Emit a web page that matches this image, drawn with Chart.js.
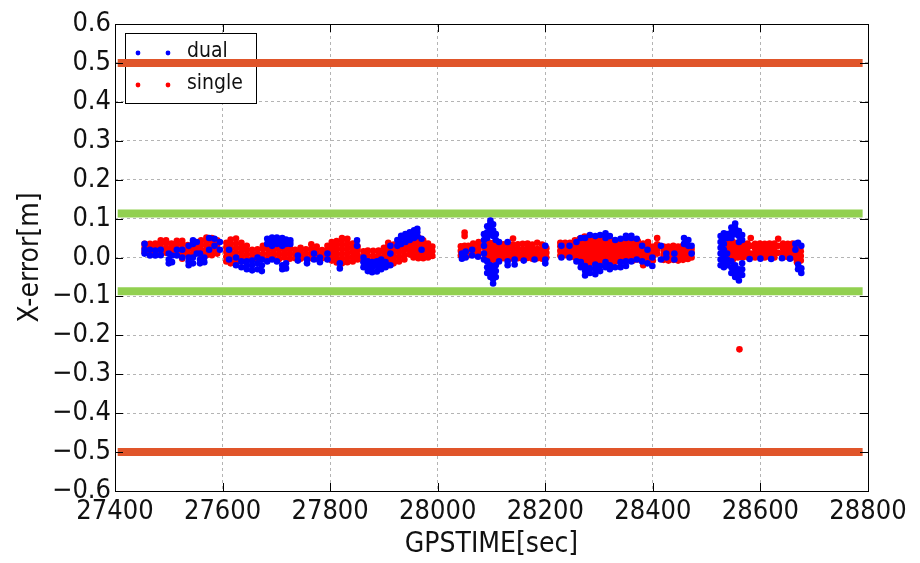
<!DOCTYPE html>
<html>
<head>
<meta charset="utf-8">
<script src="https://cdn.jsdelivr.net/npm/chart.js@4/dist/chart.umd.min.js"></script>
<style>
  html, body { margin: 0; padding: 0; background: #fff; }
  #wrap { width: 920px; height: 563px; position: relative; }
</style>
</head>
<body>
<div id="wrap"><canvas id="errChart"></canvas></div>
<script>
/* ════════════════════════════════════════
   Data
   ════════════════════════════════════════ */
const xTickValues = [27400, 27600, 27800, 28000, 28200, 28400, 28600, 28800];
const yTickValues = [-0.6, -0.5, -0.4, -0.3, -0.2, -0.1, 0, 0.1, 0.2, 0.3, 0.4, 0.5, 0.6];
const yTickLabels = ['\u22120.6', '\u22120.5', '\u22120.4', '\u22120.3', '\u22120.2', '\u22120.1',
                     '0.0', '0.1', '0.2', '0.3', '0.4', '0.5', '0.6'];

// limit lines: [start, end] time and the levels drawn
const limitSpan   = [27405, 28790];
const outerLimits = [0.5, -0.5];
const innerLimits = [0.113, -0.087];

// each row: [GPS time, error, error, ...] at that time
const dualRows = [
  [27455, 0.01, 0.02, 0.035], [27465, 0.005, 0.02], [27475, 0.005, 0.018], [27485, 0.006, 0.02],
  [27500, -0.015, -0.005, 0.01], [27506, -0.012, 0.005], [27515, 0.005, 0.02], [27525, 0.0, 0.02],
  [27537, -0.02, -0.01, 0.0, 0.03], [27545, -0.015, 0.0, 0.035, 0.044], [27552, 0.01, 0.04],
  [27558, -0.015, -0.005, 0.01], [27566, -0.012, 0.0], [27575, 0.02, 0.05], [27585, 0.03, 0.048],
  [27595, 0.02, 0.04],
  [27612, -0.005, 0.02], [27625, -0.02, 0.0], [27635, -0.025, -0.01], [27645, -0.03, -0.02, -0.01],
  [27655, -0.033, -0.02, -0.008], [27665, -0.03, -0.015, 0.0], [27673, -0.035, -0.02, -0.005],
  [27683, -0.01, 0.035, 0.048], [27692, -0.005, 0.03, 0.042, 0.051], [27701, -0.01, 0.035, 0.045, 0.051],
  [27711, -0.03, -0.02, 0.03, 0.042, 0.05], [27718, -0.028, -0.015, 0.035, 0.046], [27726, 0.035, 0.044],
  [27740, -0.008, 0.005], [27757, -0.015, -0.005], [27770, -0.005, 0.01], [27781, -0.012, 0.0],
  [27795, -0.005, 0.01], [27818, -0.028, -0.015], [27850, 0.03, 0.044],
  [27862, -0.025, -0.012, 0.0], [27870, -0.035, -0.022, -0.01], [27878, -0.038, -0.025, -0.012],
  [27887, -0.036, -0.022, -0.01], [27895, -0.03, -0.018, -0.005], [27903, -0.025, -0.012],
  [27912, -0.02, 0.01, 0.03], [27925, 0.03, 0.045], [27932, 0.035, 0.05, 0.056],
  [27940, 0.04, 0.05, 0.06], [27948, 0.045, 0.055, 0.065], [27956, 0.05, 0.06, 0.07],
  [27962, 0.055, 0.065, 0.074], [27970, 0.02, 0.048],
  [28045, -0.003, 0.01], [28052, 0.0, 0.015], [28064, 0.005, 0.02], [28075, 0.002],
  [28086, -0.005, 0.01, 0.03, 0.045, 0.06], [28092, -0.04, -0.025, -0.01, 0.05, 0.065, 0.08],
  [28098, -0.05, -0.035, -0.02, 0.06, 0.075, 0.088, 0.095],
  [28103, -0.067, -0.055, -0.04, -0.025, 0.055, 0.07, 0.085],
  [28108, -0.05, -0.035, -0.02, 0.045, 0.06], [28114, -0.01, 0.04], [28130, -0.02, -0.01, 0.04],
  [28143, -0.018, -0.005], [28160, -0.008], [28180, -0.005], [28200, -0.015, -0.005, 0.03],
  [28230, 0.0, 0.03], [28245, 0.0, 0.03], [28258, -0.01, 0.04], [28266, -0.025, -0.012, 0.05],
  [28274, -0.046, -0.034, -0.022, 0.05], [28283, -0.04, -0.028, 0.058],
  [28293, -0.043, -0.03, -0.018, 0.055], [28302, -0.035, -0.022, 0.058],
  [28312, -0.025, -0.012, 0.05, 0.062], [28320, -0.03, -0.02, 0.055], [28330, -0.025, 0.045],
  [28340, -0.025, -0.012, 0.048], [28350, -0.022, -0.01, 0.05, 0.056], [28360, -0.01, 0.05, 0.056],
  [28370, -0.005, 0.048], [28380, -0.01, 0.03], [28390, -0.015, 0.02], [28399, -0.022, 0.0],
  [28415, -0.005, 0.03], [28425, 0.0, 0.01], [28440, -0.005, 0.01], [28458, 0.035, 0.05],
  [28466, 0.03, 0.045], [28472, 0.01, 0.03],
  [28526, -0.02, -0.005, 0.01, 0.025, 0.04, 0.055], [28532, -0.025, -0.01, 0.005, 0.02, 0.035, 0.05, 0.062],
  [28538, -0.02, -0.005, 0.01, 0.05, 0.06], [28546, -0.04, -0.025, -0.01, 0.05, 0.065, 0.077],
  [28553, -0.05, -0.035, -0.02, 0.06, 0.075, 0.087], [28560, -0.059, -0.045, -0.03, 0.04, 0.055, 0.068],
  [28566, -0.045, -0.03, -0.015, 0.045, 0.058], [28580, -0.004], [28600, -0.003], [28620, -0.004],
  [28640, -0.002], [28655, -0.003], [28665, 0.02, 0.035], [28670, -0.03, -0.018, 0.038],
  [28676, -0.04, -0.028, 0.03],
];

const singleRows = [
  [27455, 0.014, 0.025, 0.035], [27465, 0.014, 0.025, 0.035], [27475, 0.013, 0.025, 0.036],
  [27485, 0.012, 0.024, 0.036, 0.044], [27495, 0.012, 0.024, 0.036, 0.044], [27505, 0.013, 0.025, 0.036],
  [27515, 0.008, 0.02, 0.032, 0.043], [27525, -0.003, 0.01, 0.022, 0.034, 0.043],
  [27535, 0.008, 0.02, 0.032], [27545, 0.01, 0.022, 0.033], [27553, 0.012, 0.024, 0.035],
  [27560, 0.008, 0.02, 0.032, 0.044], [27570, 0.006, 0.018, 0.03, 0.042, 0.051],
  [27580, 0.006, 0.018, 0.03, 0.042, 0.05], [27590, 0.01, 0.022, 0.034, 0.044],
  [27607, -0.01, 0.002, 0.014, 0.026, 0.038], [27615, -0.015, -0.003, 0.01, 0.022, 0.034, 0.046],
  [27625, -0.012, 0.0, 0.012, 0.024, 0.036, 0.049], [27635, -0.01, 0.002, 0.014, 0.026, 0.038],
  [27645, -0.005, 0.007, 0.019, 0.03], [27655, -0.003, 0.009, 0.02], [27665, -0.003, 0.009, 0.021],
  [27675, -0.003, 0.009, 0.022, 0.03], [27685, -0.002, 0.01, 0.022, 0.03], [27695, -0.002, 0.01, 0.021, 0.03],
  [27705, -0.004, 0.008, 0.02, 0.029], [27715, 0.0, 0.011, 0.022], [27725, -0.003, 0.009, 0.02, 0.027],
  [27735, -0.002, 0.009, 0.02], [27745, -0.003, 0.008, 0.019, 0.025], [27755, -0.001, 0.01, 0.021],
  [27765, -0.002, 0.01, 0.022, 0.034], [27775, -0.003, 0.009, 0.02, 0.028], [27785, -0.002, 0.008, 0.019],
  [27795, -0.004, 0.008, 0.02, 0.03],
  [27803, -0.008, 0.004, 0.016, 0.028, 0.04], [27812, -0.013, -0.001, 0.011, 0.023, 0.035, 0.042],
  [27822, -0.015, -0.003, 0.009, 0.021, 0.033, 0.045, 0.05], [27832, -0.012, 0.0, 0.012, 0.024, 0.036, 0.048],
  [27842, -0.01, 0.002, 0.014, 0.026, 0.036], [27851, -0.005, 0.007, 0.019, 0.028],
  [27862, -0.008, 0.004, 0.016], [27870, -0.007, 0.005, 0.018], [27880, -0.008, 0.004, 0.017],
  [27890, -0.006, 0.006, 0.018], [27900, -0.01, 0.002, 0.014, 0.025],
  [27908, -0.02, -0.008, 0.004, 0.016, 0.028, 0.038], [27918, -0.015, -0.003, 0.009, 0.021, 0.033],
  [27928, -0.01, 0.002, 0.014, 0.026, 0.036], [27938, -0.005, 0.007, 0.019, 0.03],
  [27948, 0.008, 0.02, 0.03], [27955, 0.0, 0.012, 0.024, 0.036, 0.046],
  [27964, -0.002, 0.01, 0.022, 0.034, 0.046, 0.051], [27973, -0.002, 0.01, 0.022, 0.034, 0.044],
  [27982, 0.0, 0.012, 0.024, 0.036], [27990, 0.004, 0.016, 0.028],
  [28043, 0.005, 0.017, 0.029], [28050, 0.007, 0.019, 0.03, 0.055, 0.064], [28057, 0.006, 0.018, 0.03],
  [28066, 0.012, 0.024, 0.036], [28076, 0.01, 0.022, 0.034, 0.04], [28088, 0.0, 0.012, 0.024, 0.036],
  [28096, -0.008, 0.004, 0.016, 0.028, 0.038], [28104, -0.006, 0.006, 0.018, 0.03, 0.038],
  [28113, -0.004, 0.008, 0.02, 0.032], [28122, -0.002, 0.01, 0.022, 0.034],
  [28131, -0.002, 0.01, 0.022, 0.034], [28140, -0.003, 0.009, 0.021, 0.033, 0.049],
  [28149, -0.002, 0.01, 0.022, 0.034], [28158, -0.003, 0.009, 0.021, 0.035],
  [28167, -0.001, 0.011, 0.023, 0.036], [28176, -0.003, 0.009, 0.021, 0.033],
  [28185, -0.002, 0.01, 0.022, 0.038], [28194, -0.003, 0.009, 0.021, 0.033], [28202, 0.0, 0.012, 0.024],
  [28228, 0.005, 0.017, 0.029, 0.038], [28237, 0.006, 0.018, 0.03, 0.038], [28246, 0.005, 0.017, 0.029, 0.038],
  [28255, 0.0, 0.012, 0.024, 0.036, 0.044], [28264, -0.01, 0.002, 0.014, 0.026, 0.038, 0.048],
  [28273, -0.015, -0.003, 0.009, 0.021, 0.033, 0.045, 0.054],
  [28282, -0.02, -0.008, 0.004, 0.016, 0.028, 0.04, 0.052, 0.056],
  [28291, -0.012, 0.0, 0.012, 0.024, 0.036, 0.048], [28300, -0.015, -0.003, 0.009, 0.021, 0.033, 0.044],
  [28309, -0.01, 0.002, 0.014, 0.026, 0.038, 0.048], [28318, -0.008, 0.004, 0.016, 0.028, 0.04],
  [28327, -0.012, 0.0, 0.012, 0.024, 0.036, 0.043], [28336, -0.01, 0.002, 0.014, 0.026, 0.038],
  [28345, -0.008, 0.004, 0.016, 0.028, 0.04], [28354, -0.006, 0.006, 0.018, 0.03, 0.044],
  [28363, -0.008, 0.004, 0.016, 0.028, 0.04], [28372, -0.005, 0.007, 0.019, 0.031, 0.042],
  [28382, -0.02, 0.0, 0.012, 0.024, 0.036], [28391, -0.004, 0.008, 0.02, 0.032, 0.04],
  [28400, -0.008, 0.004, 0.016, 0.028], [28408, 0.01, 0.022, 0.034, 0.05],
  [28420, -0.006, 0.006, 0.018, 0.028], [28429, -0.008, 0.004, 0.016, 0.028],
  [28438, -0.006, 0.006, 0.018, 0.03], [28447, -0.008, 0.004, 0.016, 0.028],
  [28456, -0.006, 0.006, 0.018, 0.03], [28465, -0.004, 0.008, 0.02, 0.028], [28472, 0.0, 0.012, 0.022],
  [28541, -0.008, 0.004, 0.016, 0.028, 0.04, 0.049], [28549, -0.005, 0.007, 0.019, 0.031, 0.04],
  [28558, 0.0, 0.012, 0.024, 0.036], [28561, -0.236], [28567, 0.0, 0.012, 0.024, 0.036],
  [28576, 0.001, 0.013, 0.025, 0.036], [28582, 0.01, 0.03, 0.05], [28590, 0.0, 0.012, 0.024, 0.035],
  [28599, 0.001, 0.013, 0.025, 0.036], [28608, 0.0, 0.012, 0.024, 0.035],
  [28617, 0.001, 0.013, 0.025, 0.036], [28626, 0.0, 0.012, 0.024, 0.036], [28633, 0.012, 0.03, 0.048],
  [28642, 0.0, 0.012, 0.024, 0.036], [28651, 0.001, 0.013, 0.025, 0.035],
  [28660, 0.0, 0.012, 0.024, 0.036], [28668, -0.012, 0.0, 0.012, 0.024, 0.034],
  [28675, -0.008, 0.004, 0.016, 0.028],
];

/* ════════════════════════════════════════
   Helpers
   ════════════════════════════════════════ */
const COLORS = {
  dual:   '#0000ff',
  single: '#ff0000',
  outer:  '#e0552a',
  inner:  '#92d050',
  grid:   '#b4b4b4',
  text:   '#111111',
};
const FONT_FAMILY = "'DejaVu Sans Condensed', 'DejaVu Sans', sans-serif";
const MARK_R      = 3.3;

function toPoints(rows) {
  return rows.flatMap(([t, ...errs]) => errs.map((e) => ({ x: t, y: e })));
}

function limitLine(level, color) {
  return {
    type:        'line',
    data:        limitSpan.map((t) => ({ x: t, y: level })),
    borderColor: color,
    borderWidth: 8,
    pointRadius: 0,
    showLine:    true,
    fill:        false,
    label:       '',
  };
}

/** frame + inward ticks like the old matplotlib style, and a boxed legend */
const axesDecor = {
  id: 'axesDecor',
  beforeDatasetsDraw(chart) {
    const { ctx, chartArea: a } = chart;
    const bx = a.left + 10, by = a.top + 9, bw = 131, bh = 70;
    ctx.save();
    ctx.fillStyle   = '#fff';
    ctx.fillRect(bx, by, bw, bh);
    ctx.strokeStyle = '#000';
    ctx.lineWidth   = 1;
    ctx.strokeRect(bx + 0.5, by + 0.5, bw, bh);
    const rows = [['dual', COLORS.dual, by + 19], ['single', COLORS.single, by + 51]];
    ctx.font         = `21px ${FONT_FAMILY}`;
    ctx.textBaseline = 'middle';
    rows.forEach(([txt, col, y]) => {
      ctx.fillStyle = col;
      [bx + 13, bx + 43].forEach((x) => {
        ctx.beginPath();
        ctx.arc(x, y + 1, 2.4, 0, Math.PI * 2);
        ctx.fill();
      });
      ctx.fillStyle = COLORS.text;
      ctx.fillText(txt, bx + 62, y);
    });
    ctx.restore();
  },
  afterDraw(chart) {
    const { ctx, chartArea: a, scales: { x, y } } = chart;
    ctx.save();
    ctx.strokeStyle = '#000';
    ctx.lineWidth   = 1;
    ctx.beginPath();
    xTickValues.forEach((v) => {
      const px = Math.round(x.getPixelForValue(v)) + 0.5;
      ctx.moveTo(px, a.bottom); ctx.lineTo(px, a.bottom - 8);
      ctx.moveTo(px, a.top);    ctx.lineTo(px, a.top + 8);
    });
    yTickValues.forEach((v) => {
      const py = Math.round(y.getPixelForValue(v)) + 0.5;
      ctx.moveTo(a.left, py);  ctx.lineTo(a.left + 8, py);
      ctx.moveTo(a.right, py); ctx.lineTo(a.right - 8, py);
    });
    ctx.stroke();
    ctx.strokeRect(Math.round(a.left) + 0.5, Math.round(a.top) + 0.5,
                   Math.round(a.right - a.left), Math.round(a.bottom - a.top));
    ctx.restore();
  },
};

/* ════════════════════════════════════════
   Scatter — X-error over GPS time
   ════════════════════════════════════════ */
new Chart(document.getElementById('errChart'), {
  type: 'scatter',
  data: {
    datasets: [
      {
        label:           'dual',
        data:            toPoints(dualRows),
        backgroundColor: COLORS.dual,
        borderWidth:     0,
        pointRadius:     MARK_R,
      },
      {
        label:           'single',
        data:            toPoints(singleRows),
        backgroundColor: COLORS.single,
        borderWidth:     0,
        pointRadius:     MARK_R,
      },
      ...outerLimits.map((v) => limitLine(v, COLORS.outer)),
      ...innerLimits.map((v) => limitLine(v, COLORS.inner)),
    ],
  },
  options: {
    responsive:          true,
    maintainAspectRatio: false,
    animation:           false,
    devicePixelRatio:    1,
    layout: { padding: { left: 0, top: 24, right: 52, bottom: 0 } },
    plugins: {
      legend:  { display: false },
      tooltip: { enabled: false },
    },
    scales: {
      x: {
        type: 'linear',
        min:  27400,
        max:  28800,
        afterFit:        (s) => { s.height = 72; },
        afterBuildTicks: (s) => { s.ticks = xTickValues.map((v) => ({ value: v })); },
        grid:   { color: COLORS.grid, drawTicks: false },
        border: { display: false, dash: [3, 3] },
        ticks: {
          color:       COLORS.text,
          font:        { family: FONT_FAMILY, size: 27 },
          padding:     5,
          maxRotation: 0,
          callback:    (v) => String(v),
        },
        title: {
          display: true,
          text:    'GPSTIME[sec]',
          color:   COLORS.text,
          font:    { family: FONT_FAMILY, size: 28 },
          padding: { top: 0, bottom: 1 },
        },
      },
      y: {
        type: 'linear',
        min:  -0.6,
        max:  0.6,
        afterFit:        (s) => { s.width = 115; },
        afterBuildTicks: (s) => { s.ticks = yTickValues.map((v) => ({ value: v })); },
        grid:   { color: COLORS.grid, drawTicks: false },
        border: { display: false, dash: [3, 3] },
        ticks: {
          color:    COLORS.text,
          font:     { family: FONT_FAMILY, size: 27 },
          padding:  4,
          callback: (v) => yTickLabels[yTickValues.findIndex((t) => Math.abs(t - v) < 1e-9)],
        },
        title: {
          display: true,
          text:    'X-error[m]',
          color:   COLORS.text,
          font:    { family: FONT_FAMILY, size: 28 },
          padding: { top: 14, bottom: 0 },
        },
      },
    },
  },
  plugins: [axesDecor],
});
</script>
</body>
</html>
